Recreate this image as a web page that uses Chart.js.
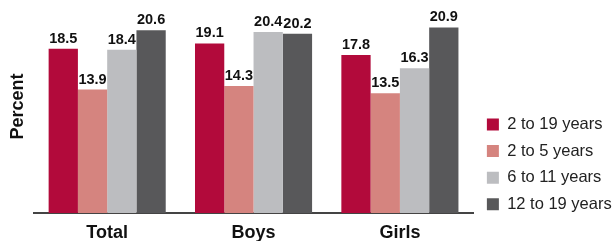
<!DOCTYPE html>
<html>
<head>
<meta charset="utf-8">
<script src="https://cdn.jsdelivr.net/npm/chart.js@4.4.1/dist/chart.umd.min.js"></script>
<style>
    html, body { margin: 0; padding: 0; background: #fff; }
    .chart-box { position: relative; width: 613px; height: 241px; }
</style>
</head>
<body>
<div class="chart-box"><canvas id="obesityChart"></canvas></div>
<script>
// Data
const groups = ["Total", "Boys", "Girls"];
const seriesNames = ["2 to 19 years", "2 to 5 years", "6 to 11 years", "12 to 19 years"];
const age2to19 = [18.5, 19.1, 17.8];
const age2to5 = [13.9, 14.3, 13.5];
const age6to11 = [18.4, 20.4, 16.3];
const age12to19 = [20.6, 20.2, 20.9];
const seriesColors = ["#B20A3B", "#D5847F", "#BCBDC0", "#58585A"];

const FONT = "'Liberation Sans', Arial, Helvetica, sans-serif";

// Value labels above bars
const valueLabels = {
    id: "valueLabels",
    afterDatasetsDraw(chart) {
        const ctx = chart.ctx;
        ctx.save();
        ctx.font = "bold 14.5px " + FONT;
        ctx.fillStyle = "#111";
        ctx.textAlign = "center";
        ctx.textBaseline = "alphabetic";
        chart.data.datasets.forEach((ds, i) => {
            chart.getDatasetMeta(i).data.forEach((bar, j) => {
                ctx.fillText(ds.data[j].toFixed(1), bar.x, bar.y - 6);
            });
        });
        ctx.restore();
    },
};

// Nudge the legend block so it sits low, next to the plot
const legendNudge = {
    id: "legendNudge",
    afterLayout(chart) {
        const lg = chart.legend;
        lg.left += 3.7;
        lg.right += 3.7;
        lg.bottom = chart.chartArea.bottom + 9.7;
    },
};

const allSeries = [age2to19, age2to5, age6to11, age12to19];

const ctx = document.getElementById("obesityChart").getContext("2d");
const chart = new Chart(ctx, {
    type: "bar",
    data: {
        labels: groups,
        datasets: allSeries.map((values, i) => ({
            label: seriesNames[i],
            data: values,
            backgroundColor: seriesColors[i],
            borderWidth: 0,
            categoryPercentage: 0.8,
            barPercentage: 1.0,
        })),
    },
    options: {
        responsive: true,
        maintainAspectRatio: false,
        animation: false,
        layout: {
            padding: { left: 4.4, right: -5, top: 0, bottom: -11.5 },
        },
        plugins: {
            tooltip: { enabled: false },
            legend: {
                position: "right",
                align: "end",
                labels: {
                    boxWidth: 12,
                    boxHeight: 12,
                    padding: 10.1,
                    color: "#222",
                    font: { family: FONT, size: 16.5 },
                },
            },
        },
        scales: {
            x: {
                grid: { display: false, drawTicks: false },
                border: { display: true, color: "#444", width: 2 },
                ticks: {
                    color: "#111",
                    padding: 9,
                    font: { family: FONT, size: 18, weight: "bold" },
                },
            },
            y: {
                min: 0,
                max: 24,
                grid: { display: false, drawTicks: false },
                border: { display: false },
                ticks: { display: false },
                title: {
                    display: true,
                    text: "Percent",
                    color: "#111",
                    padding: { top: 3, bottom: 5 },
                    font: { family: FONT, size: 18, weight: "bold" },
                },
            },
        },
    },
    plugins: [valueLabels, legendNudge],
});
</script>
</body>
</html>
